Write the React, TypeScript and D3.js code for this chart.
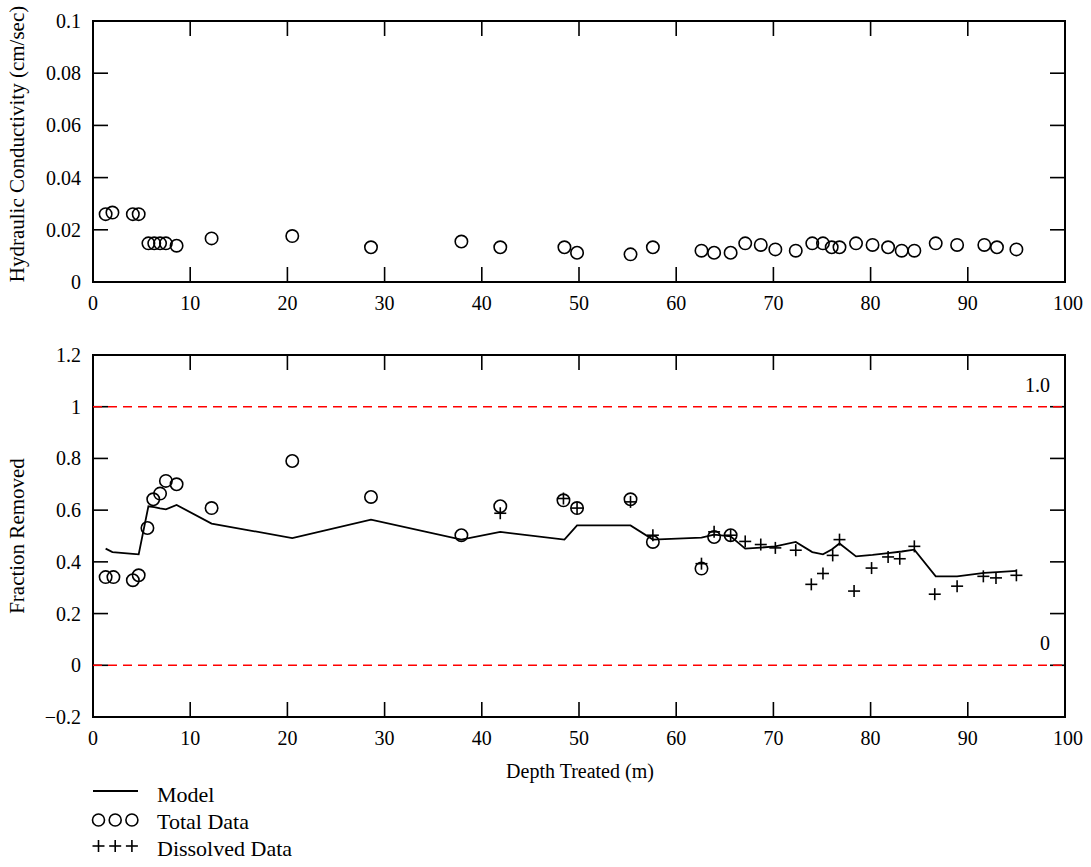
import React from 'react';
import * as d3 from 'd3';

const depth = [1.3, 2.0, 4.1, 4.7, 5.7, 6.3, 6.9, 7.5, 8.6, 12.2, 20.5, 28.6, 37.9, 41.9, 48.5, 49.8, 55.3, 57.6, 62.6, 63.9, 65.6, 67.1, 68.7, 70.2, 72.3, 74.0, 75.1, 76.0, 76.8, 78.5, 80.2, 81.8, 83.2, 84.5, 86.7, 88.9, 91.7, 93.0, 95.0];
const conductivity = [0.026, 0.0266, 0.026, 0.026, 0.0148, 0.0148, 0.0148, 0.0148, 0.0139, 0.0167, 0.0176, 0.0133, 0.0155, 0.0133, 0.0133, 0.0112, 0.0106, 0.0133, 0.012, 0.0112, 0.0112, 0.0148, 0.0142, 0.0125, 0.012, 0.0148, 0.0148, 0.0133, 0.0133, 0.0148, 0.0142, 0.0133, 0.012, 0.012, 0.0148, 0.0142, 0.0142, 0.0133, 0.0125];
const model = [0.451, 0.438, 0.431, 0.429, 0.615, 0.612, 0.607, 0.603, 0.620, 0.548, 0.492, 0.563, 0.486, 0.516, 0.486, 0.541, 0.541, 0.486, 0.494, 0.505, 0.499, 0.451, 0.455, 0.460, 0.477, 0.438, 0.429, 0.448, 0.471, 0.421, 0.427, 0.434, 0.440, 0.447, 0.344, 0.344, 0.357, 0.360, 0.365];
const totalDepth = [1.3, 2.1, 4.1, 4.7, 5.6, 6.2, 6.9, 7.5, 8.6, 12.2, 20.5, 28.6, 37.9, 41.9, 48.4, 49.8, 55.3, 57.6, 62.6, 63.9, 65.6];
const totalFraction = [0.341, 0.341, 0.329, 0.348, 0.531, 0.642, 0.664, 0.713, 0.700, 0.608, 0.790, 0.651, 0.503, 0.615, 0.638, 0.608, 0.642, 0.477, 0.374, 0.496, 0.503];
const dissolvedDepth = [41.9, 48.4, 49.8, 55.3, 57.6, 62.6, 63.9, 65.6, 67.1, 68.7, 70.2, 72.3, 73.9, 75.1, 76.1, 76.8, 78.3, 80.1, 81.8, 83.0, 84.5, 86.6, 88.9, 91.6, 92.9, 95.0];
const dissolvedFraction = [0.588, 0.645, 0.608, 0.632, 0.503, 0.393, 0.516, 0.503, 0.479, 0.467, 0.454, 0.445, 0.313, 0.355, 0.425, 0.486, 0.287, 0.376, 0.419, 0.412, 0.460, 0.275, 0.306, 0.344, 0.338, 0.348];

const xTicks = [0, 10, 20, 30, 40, 50, 60, 70, 80, 90, 100];
const kTicks = [0, 0.02, 0.04, 0.06, 0.08, 0.1];
const kTickLabels = ['0', '0.02', '0.04', '0.06', '0.08', '0.1'];
const fTicks = [-0.2, 0, 0.2, 0.4, 0.6, 0.8, 1, 1.2];
const fTickLabels = ['\u22120.2', '0', '0.2', '0.4', '0.6', '0.8', '1', '1.2'];
const refLines = [1, 0];
const refLabels = ['1.0', '0'];
const legendItems = ['Model', 'Total Data', 'Dissolved Data'];

const FONT = "'Liberation Serif', 'DejaVu Serif', serif";
const L = 93, R = 1065;
const TICK = 15;

function T({ children, size = 20, ...rest }: any) {
  return (
    <text {...rest} style={{ fontFamily: FONT, fontSize: size + 'px' }}>{children}</text>
  );
}

function Frame({ x, y, yTicks, yLabels }: any) {
  const [y0, y1] = [y.range()[0], y.range()[1]];
  return (
    <g>
      <rect x={L} y={y1} width={R - L} height={y0 - y1} fill="none" stroke="#000" strokeWidth={2} />
      {xTicks.slice(1, -1).map((t) => (
        <g key={'xt' + t}>
          <line x1={x(t)} x2={x(t)} y1={y0} y2={y0 - TICK} stroke="#000" strokeWidth={1.6} />
          <line x1={x(t)} x2={x(t)} y1={y1} y2={y1 + TICK} stroke="#000" strokeWidth={1.6} />
        </g>
      ))}
      {xTicks.map((t) => (
        <T key={'xl' + t} x={x(t) + (t === 100 ? 3 : 0)} y={y0 + 28} textAnchor="middle">{t}</T>
      ))}
      {yTicks.map((t: number, i: number) => (
        <g key={'yt' + i}>
          <line x1={L} x2={L + TICK} y1={y(t)} y2={y(t)} stroke="#000" strokeWidth={1.6} />
          <line x1={R} x2={R - TICK} y1={y(t)} y2={y(t)} stroke="#000" strokeWidth={1.6} />
          <T x={81} y={y(t) + 7} textAnchor="end">{yLabels[i]}</T>
        </g>
      ))}
    </g>
  );
}

function Plus({ cx, cy, s = 6 }: any) {
  return (
    <g stroke="#000" strokeWidth={1.6}>
      <line x1={cx - s} x2={cx + s} y1={cy} y2={cy} />
      <line x1={cx} x2={cx} y1={cy - s} y2={cy + s} />
    </g>
  );
}

export default function App() {
  const x = d3.scaleLinear().domain([0, 100]).range([L, R]);
  const yK = d3.scaleLinear().domain([0, 0.1]).range([282, 21]);
  const yF = d3.scaleLinear().domain([-0.2, 1.2]).range([717, 355]);
  const line = d3.line<number>().x((_, i) => x(depth[i])).y((d) => yF(d));

  return (
    <svg width={1091} height={867} style={{ position: 'absolute', left: 0, top: 0, background: '#fff' }}>
      <rect width={1091} height={867} fill="#fff" />
      {/* top panel */}
      <Frame x={x} y={yK} yTicks={kTicks} yLabels={kTickLabels} />
      {conductivity.map((v, i) => (
        <circle key={'k' + i} cx={x(depth[i])} cy={yK(v)} r={6.2} fill="none" stroke="#000" strokeWidth={1.6} />
      ))}
      <T transform={`translate(24,${144}) rotate(-90)`} textAnchor="middle" size={21}>Hydraulic Conductivity (cm/sec)</T>

      {/* bottom panel */}
      <Frame x={x} y={yF} yTicks={fTicks} yLabels={fTickLabels} />
      {refLines.map((v, i) => (
        <g key={'ref' + i}>
          <line x1={L} x2={R} y1={yF(v)} y2={yF(v)} stroke="#ff0000" strokeWidth={1.6} strokeDasharray="9,6" />
          <T x={1050} y={yF(v) - 15} textAnchor="end">{refLabels[i]}</T>
        </g>
      ))}
      <path d={line(model) || ''} fill="none" stroke="#000" strokeWidth={1.8} />
      {totalFraction.map((v, i) => (
        <circle key={'t' + i} cx={x(totalDepth[i])} cy={yF(v)} r={6.2} fill="none" stroke="#000" strokeWidth={1.6} />
      ))}
      {dissolvedFraction.map((v, i) => (
        <Plus key={'d' + i} cx={x(dissolvedDepth[i])} cy={yF(v)} />
      ))}
      <T transform={`translate(24,${536}) rotate(-90)`} textAnchor="middle" size={21}>Fraction Removed</T>
      <T x={580} y={778} textAnchor="middle" size={20}>Depth Treated (m)</T>

      {/* legend */}
      <line x1={93} x2={138} y1={791} y2={791} stroke="#000" strokeWidth={1.8} />
      {[0, 1, 2].map((k) => (
        <circle key={'lc' + k} cx={98.5 + k * 16.7} cy={820} r={6} fill="none" stroke="#000" strokeWidth={1.6} />
      ))}
      {[0, 1, 2].map((k) => (
        <Plus key={'lp' + k} cx={98.5 + k * 16.7} cy={846} />
      ))}
      {legendItems.map((s, i) => (
        <T key={'lg' + i} x={157} y={802 + i * 27} size={22}>{s}</T>
      ))}
    </svg>
  );
}
